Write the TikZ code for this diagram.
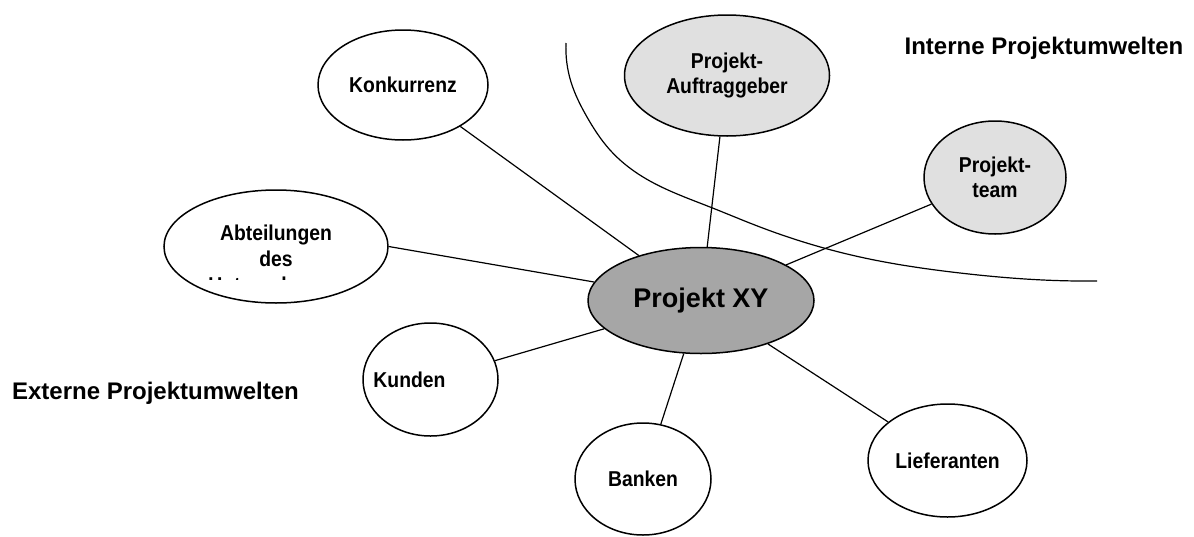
\documentclass[tikz,border=0pt]{standalone}
\usepackage{fontspec}
\setmainfont{Liberation Sans}
\newfontfamily\narrowfont{Liberation Sans}[FakeStretch=0.9]
\usepackage{tikz}
\usetikzlibrary{shapes, hobby}
\definecolor{xygray}{rgb}{0.65, 0.65, 0.65}
\definecolor{innengray}{rgb}{0.88, 0.88, 0.88}
\tikzset{
	umwelt/.style={ellipse, draw=black, line width=1.5pt, fill=white, inner sep=0pt, align=center, font=\narrowfont\bfseries\fontsize{21.5}{25}\selectfont},
	intern/.style={umwelt, fill=innengray},
	umweltlbl/.style={font=\narrowfont\bfseries\fontsize{21.5}{26}\selectfont},
	bereich/.style={anchor=base, inner sep=0pt, font=\bfseries\fontsize{24}{28}\selectfont},
	kante/.style={line width=1.2pt}
}

\begin{document}
\begin{tikzpicture}[x=1pt, y=-1pt]
				\useasboundingbox (0,0) rectangle (1194,536);
				% grenze intern / extern
				\draw[kante, use Hobby shortcut] (566,43) .. (571,82) .. (587,117) .. (610,150) .. (643,177) .. (710,207) .. (760,227) .. (860,257) .. (960,273) .. (1043,280) .. (1097,281);
				
				\node[ellipse, draw=black, line width=1.5pt, fill=xygray, inner sep=0pt, minimum width=226pt, minimum height=106pt, font=\bfseries\fontsize{27}{32}\selectfont] (xy) at (701,300.5) {Projekt XY};
				
				\node[umwelt, minimum width=170pt, minimum height=110pt] (kon) at (403,85) {Konkurrenz};
				\node[intern, minimum width=205pt, minimum height=121pt] (auf) at (727,75.5) {Projekt-\\Auftraggeber};
				\node[intern, minimum width=142pt, minimum height=113pt] (team) at (995,177.5) {Projekt-\\team};
				\node[umwelt, minimum width=224pt, minimum height=113pt, path picture={
					\clip ([yshift=-32.5pt]path picture bounding box.west) rectangle (path picture bounding box.north east);
					\node[umweltlbl, align=center] at ([yshift=-12.7pt]path picture bounding box.center) {Abteilungen\\des\\Unternehmens};
				}] (abt) at (276,246.5) {};
				\node[umwelt, minimum width=135pt, minimum height=113pt] (kun) at (430.5,379.5) {\hspace*{-42pt}Kunden};
				\node[umwelt, minimum width=136pt, minimum height=112pt] (ban) at (643,479) {Banken};
				\node[umwelt, minimum width=159pt, minimum height=113pt] (lie) at (947.5,460.5) {Lieferanten};
				
				\foreach \n in {kon, auf, team, kun, ban, lie}
					\draw[kante] (\n) -- (xy);
				\draw[kante] (abt.east) -- (xy);
				
				\node[bereich] (intern) at (1044,54) {Interne Projektumwelten};
				\node[bereich] (extern) at (155.5,399) {Externe Projektumwelten};
\end{tikzpicture}
\end{document}
